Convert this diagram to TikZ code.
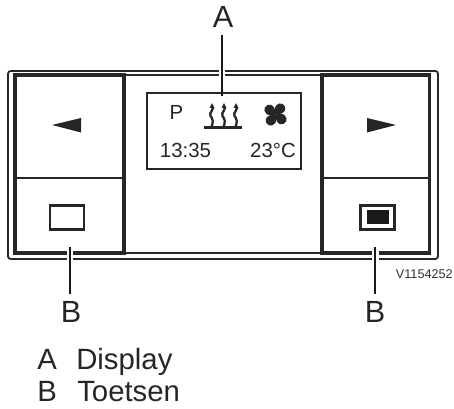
\documentclass[tikz,border=0pt]{standalone}
\usepackage{fontspec}
\setmainfont{Liberation Sans}
\usetikzlibrary{calc}

\begin{document}
\begin{tikzpicture}[x=0.75pt,y=-0.75pt,
    ink/.style={draw=black!85},
    btnbox/.style={ink,line width=2.5pt,inner sep=0pt,minimum height=133.5pt,fill=white},
    keybox/.style={ink,line width=1.6pt,fill=white,inner sep=0pt,minimum height=18pt},
    bigtext/.style={font=\fontsize{23}{25}\selectfont,inner sep=0pt,text=black!85,anchor=base},
    lcdtext/.style={font=\fontsize{15.3}{17}\selectfont,inner sep=0pt,text=black!85,anchor=base},
    legend/.style={font=\fontsize{22}{24}\selectfont,inner sep=0pt,anchor=base west,text=black!85},
    leader/.style={draw=black!90,line width=1.7pt},
    halo/.style={draw=white,line width=5.2pt},
    heat/.style={draw=black!85,line width=1.7pt}]
  \useasboundingbox (0,0) rectangle (454,409);
  \fill[white] (0,0) rectangle (454,409);

  % housing
  \draw[ink,line width=1.35pt,rounded corners=2pt] (8,71) rectangle (438,259);
  \draw[ink,line width=1.35pt] (15,75) -- (430,75);
  \draw[ink,line width=0.8pt] (15,253) -- (430,253);

  % buttons
  \node[btnbox,minimum width=81.75pt] (btnL) at (69.5,164) {};
  \node[btnbox,minimum width=80.6pt] (btnR) at (375.75,164) {};
  \draw[ink,line width=0.8pt] (btnL.west |- 0,178) -- (btnL.east |- 0,178);
  \draw[ink,line width=0.8pt] (btnR.west |- 0,178) -- (btnR.east |- 0,178);
  \fill[black!85] (52,125) -- (81,118) -- (81,132.5) -- cycle;
  \fill[black!85] (367,118) -- (396,125) -- (367,132.5) -- cycle;
  \node[keybox,minimum width=25pt] (keyL) at (67,217.5) {};
  \node[keybox,minimum width=25.5pt] (keyR) at (377.5,217.5) {};
  \fill[black!90] (367,210) rectangle (389,224);

  % display
  \node[ink,line width=1.5pt,inner sep=0pt,minimum width=115.5pt,minimum height=57pt] (display) at (224,131) {};
  \node[lcdtext] (lblP) at (176.5,120) {P};
  \node[lcdtext] (lblTime) at (185.5,158) {13:35};
  \node[lcdtext] (lblTemp) at (273,158) {23°C};
  \foreach \hx in {212,224,236}{
    \draw[heat] (\hx,106) .. controls (\hx+3,110) and (\hx-3.5,112) .. (\hx-1.5,116)
      .. controls (\hx+1,119) and (\hx+1.5,122) .. (\hx-0.5,127);
    \fill[black!85] (\hx,103) -- (\hx-2.4,108) -- (\hx+2.4,108) -- cycle;
  }
  \draw[ink,line width=1.8pt] (204,127.5) -- (242,127.5);
  % fan
  \foreach \a in {45,135,225,315}{
    \fill[black!85,rotate around={\a:(275.5,114.5)}] (275.5,114.5)
      .. controls (277,107) and (287,107) .. (288,112)
      .. controls (289.5,118) and (283,122) .. (275.5,114.5) -- cycle;
  }

  % labels and leaders
  \node[bigtext] (labA) at (223,28) {A};
  \node[bigtext] (labBL) at (71,323) {B};
  \node[bigtext] (labBR) at (375,323) {B};
  \coordinate (topA) at (222,35);
  \coordinate (topBL) at (70,247);
  \coordinate (topBR) at (375,247);
  \draw[halo] (222,68) -- (222,78);
  \draw[halo] (70,250) -- (70,262);
  \draw[halo] (375.5,250) -- (375.5,262);
  \draw[leader] (topA) -- ($(display.north -| topA)+(0,4)$);
  \draw[leader] (topBL) -- (topBL |- 0,294);
  \draw[leader] (topBR) -- (topBR |- 0,294);

  \node[font=\fontsize{9.5}{11}\selectfont,inner sep=0pt,text=black!80,anchor=base east] (code) at (453,279) {V1154252};
  \node[legend] (legA) at (37,370) {A};
  \node[legend] (legDisplay) at (76,370) {Display};
  \node[legend] (legB) at (37,402) {B};
  \node[legend] (legToets) at (77,402) {Toetsen};
\end{tikzpicture}
\end{document}
